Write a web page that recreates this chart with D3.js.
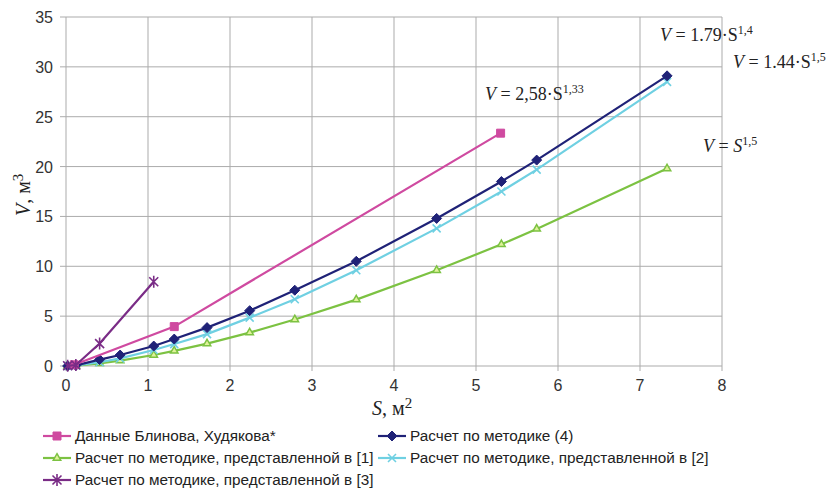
<!DOCTYPE html>
<html><head><meta charset="utf-8">
<script src="https://cdn.jsdelivr.net/npm/d3@7"></script>
<style>body{margin:0;background:#fff}svg{display:block}</style>
</head><body>
<svg id="c" width="827" height="494"></svg>
<script>
const xTicks = [0,1,2,3,4,5,6,7,8];
const yTicks = [0,5,10,15,20,25,30,35];

const blinovS = [0.1, 1.32, 5.3];
const blinovV = [0.12, 3.95, 23.35];

const m4S = [0.02, 0.12, 0.41, 0.66, 1.07, 1.32, 1.72, 2.24, 2.79, 3.54, 4.52, 5.31, 5.74, 7.33];
const m4V = [0, 0.06, 0.64, 1.1, 2.0, 2.7, 3.85, 5.55, 7.6, 10.5, 14.8, 18.5, 20.65, 29.1];

const m1S = [0.02, 0.12, 0.41, 0.66, 1.07, 1.32, 1.72, 2.24, 2.79, 3.54, 4.52, 5.31, 5.74, 7.33];
const m1V = [0, 0.03, 0.26, 0.54, 1.1, 1.52, 2.25, 3.35, 4.66, 6.66, 9.6, 12.2, 13.75, 19.8];

const m2S = [0.02, 0.12, 0.41, 0.66, 1.07, 1.32, 1.72, 2.24, 2.79, 3.54, 4.52, 5.31, 5.74, 7.33];
const m2V = [0, 0.05, 0.38, 0.77, 1.6, 2.2, 3.2, 4.85, 6.7, 9.6, 13.8, 17.5, 19.7, 28.5];

const m3S = [0.02, 0.12, 0.41, 1.07];
const m3V = [0.02, 0.1, 2.25, 8.45];

const seriesNames = [
  "Данные Блинова, Худякова*",
  "Расчет по методике (4)",
  "Расчет по методике, представленной в [1]",
  "Расчет по методике, представленной в [2]",
  "Расчет по методике, представленной в [3]"
];

const svg = d3.select("#c");
const x = d3.scaleLinear().domain([0,8]).range([66,722]);
const y = d3.scaleLinear().domain([0,35]).range([366,17]);
const gridCol = "#ababab";

// grid
const g = svg.append("g");
g.selectAll(".vg").data(xTicks).join("line")
  .attr("x1", d=>x(d)).attr("x2", d=>x(d)).attr("y1", y(35)).attr("y2", y(0)+5)
  .attr("stroke", gridCol).attr("stroke-width", 1);
g.selectAll(".hg").data(yTicks).join("line")
  .attr("x1", x(0)-6).attr("x2", x(8)).attr("y1", d=>y(d)).attr("y2", d=>y(d))
  .attr("stroke", gridCol).attr("stroke-width", 1);

// tick labels
svg.append("g").selectAll("text").data(yTicks).join("text")
  .attr("x", 53).attr("y", d=>y(d)+6).attr("text-anchor","end")
  .attr("font-family","Liberation Sans, Arial").attr("font-size",16).attr("fill","#333")
  .text(d=>d);
svg.append("g").selectAll("text").data(xTicks).join("text")
  .attr("x", d=>x(d)).attr("y", 391).attr("text-anchor","middle")
  .attr("font-family","Liberation Sans, Arial").attr("font-size",16).attr("fill","#333")
  .text(d=>d);

// axis titles
const xt = svg.append("text").attr("x", 372).attr("y", 415)
  .attr("font-family","Liberation Serif, Times New Roman").attr("font-size",20).attr("fill","#222");
xt.append("tspan").attr("font-style","italic").text("S");
xt.append("tspan").text(", м");
xt.append("tspan").attr("dy",-7).attr("font-size",15).text("2");

const yt = svg.append("text").attr("transform","translate(30,216) rotate(-90)")
  .attr("font-family","Liberation Serif, Times New Roman").attr("font-size",20).attr("fill","#222");
yt.append("tspan").attr("font-style","italic").text("V");
yt.append("tspan").text(", м");
yt.append("tspan").attr("dy",-7).attr("font-size",15).text("3");

// markers
function marker(sel, type, color){
  if(type==="square"){
    sel.append("path").attr("d", d3.symbol(d3.symbolSquare, 64)()).attr("fill", color).attr("stroke", color);
  } else if(type==="diamond"){
    sel.append("path").attr("d", "M0,-5L5,0L0,5L-5,0Z").attr("fill", color).attr("stroke", color);
  } else if(type==="triangle"){
    sel.append("path").attr("d", d3.symbol(d3.symbolTriangle, 24)()).attr("fill", "#dff29a").attr("stroke", color).attr("stroke-width",1.5);
  } else if(type==="x"){
    sel.append("path").attr("d","M-4,-4L4,4M-4,4L4,-4").attr("stroke", color).attr("stroke-width",1.6).attr("fill","none");
  } else if(type==="star"){
    sel.append("path").attr("d","M-4.5,-4.5L4.5,4.5M-4.5,4.5L4.5,-4.5M0,-6L0,6").attr("stroke", color).attr("stroke-width",1.6).attr("fill","none");
  }
}

const series = [
  {S: m1S, V: m1V, color:"#7cc242", type:"triangle", name: seriesNames[2]},
  {S: m2S, V: m2V, color:"#6fd0e2", type:"x", name: seriesNames[3]},
  {S: m4S, V: m4V, color:"#1f2277", type:"diamond", name: seriesNames[1]},
  {S: blinovS, V: blinovV, color:"#cf4aa0", type:"square", name: seriesNames[0]},
  {S: m3S, V: m3V, color:"#7a2c86", type:"star", name: seriesNames[4]}
];

const line = d3.line().x(d=>x(d[0])).y(d=>y(d[1]));
series.forEach(s=>{
  const pts = s.S.map((v,i)=>[v, s.V[i]]);
  svg.append("path").attr("d", line(pts)).attr("fill","none").attr("stroke", s.color).attr("stroke-width", 2.2);
  svg.append("g").selectAll("g").data(pts).join("g")
    .attr("transform", d=>`translate(${x(d[0])},${y(d[1])})`)
    .each(function(){ marker(d3.select(this), s.type, s.color); });
});

// annotations
function annot(xp, yp, parts){
  const t = svg.append("text").attr("x", xp).attr("y", yp)
    .attr("font-family","Liberation Serif, Times New Roman").attr("font-size",18).attr("fill","#222");
  parts.forEach(p=>{
    const ts = t.append("tspan").text(p.t);
    if(p.i) ts.attr("font-style","italic");
    if(p.sup) ts.attr("dy",-7).attr("font-size",12);
  });
}
annot(660, 41, [{t:"V",i:1},{t:" = 1.79·S"},{t:"1,4",sup:1}]);
annot(733, 68, [{t:"V",i:1},{t:" = 1.44·S"},{t:"1,5",sup:1}]);
annot(485, 100, [{t:"V",i:1},{t:" = 2,58·S"},{t:"1,33",sup:1}]);
annot(703, 152, [{t:"V",i:1},{t:" = "},{t:"S",i:1},{t:"1,5",sup:1}]);

// legend
const legend = [
  {s: series[3], lx: 43, ly: 436},
  {s: series[2], lx: 378, ly: 436},
  {s: series[0], lx: 43, ly: 458},
  {s: series[1], lx: 378, ly: 458},
  {s: series[4], lx: 43, ly: 480}
];
legend.forEach(L=>{
  const gg = svg.append("g");
  gg.append("line").attr("x1", L.lx).attr("x2", L.lx+28).attr("y1", L.ly).attr("y2", L.ly)
    .attr("stroke", L.s.color).attr("stroke-width", 2.2);
  const m = gg.append("g").attr("transform", `translate(${L.lx+14},${L.ly})`);
  marker(m, L.s.type, L.s.color);
  gg.append("text").attr("x", L.lx+32).attr("y", L.ly+5)
    .attr("font-family","Liberation Sans, Arial").attr("font-size",15.3).attr("fill","#222")
    .text(L.s.name);
});
</script>
</body></html>
